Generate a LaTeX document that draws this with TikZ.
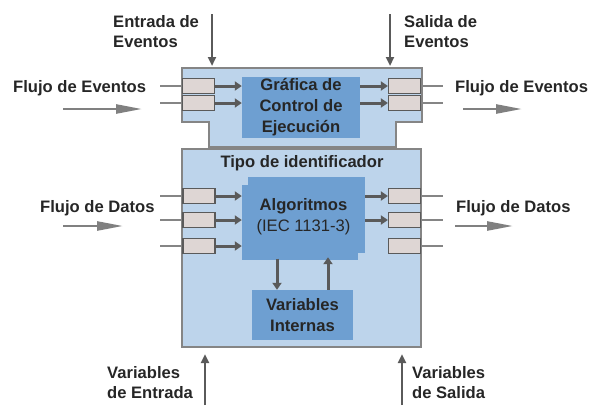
\documentclass[tikz,border=0pt]{standalone}
\usepackage{fontspec}
\setmainfont{Liberation Sans}
\usetikzlibrary{arrows.meta}
\definecolor{boxblue}{HTML}{BDD4EB}
\definecolor{coreblue}{HTML}{6E9FD1}
\definecolor{portfill}{HTML}{DED6D4}
\definecolor{edgegray}{HTML}{858585}
\definecolor{inkgray}{HTML}{5A5A5A}
\tikzset{
  lbl/.style={font=\fontsize{16.6}{20.5}\selectfont\bfseries, text=black!85,
    inner sep=0pt, align=left},
  outerbox/.style={draw=edgegray, fill=boxblue, line width=2.5pt},
  corebox/.style={fill=coreblue, inner sep=0pt, align=center,
    font=\fontsize{16.6}{21}\selectfont\bfseries, text=black!85},
  port/.style={draw=inkgray, fill=portfill, line width=1.2pt,
    minimum width=32pt, minimum height=15pt, inner sep=0pt},
  wire/.style={draw=edgegray, line width=2pt},
  flow/.style={draw=inkgray, line width=3pt, -{Triangle[length=7pt,width=9pt]}},
  iface/.style={draw=inkgray, line width=2.5pt, -{Triangle[length=9pt,width=8pt]}},
  bigflow/.style={draw=gray, line width=2.5pt, -{Triangle[length=26pt,width=9pt]}},
}
\begin{document}
\begin{tikzpicture}[x=1pt,y=-1pt]
  \useasboundingbox (0,0) rectangle (590,405);
  % event part of the block
  \draw[outerbox] (182,68) -- (422,68) -- (422,122) -- (396,122) -- (396,147)
    -- (209,147) -- (209,122) -- (182,122) -- cycle;
  % data part of the block
  \draw[outerbox] (182,149) rectangle (421,347);
  \node[lbl] (tipo) at (302,163) {Tipo de identificador};

  \node[corebox, minimum width=118pt, minimum height=61pt] (ctrl) at (301,107.5)
    {Gráfica de\\Control de\\Ejecución};
  \fill[coreblue] (248,177) rectangle (365,253);
  \fill[coreblue] (242,185) rectangle (358,260);
  \node[corebox, fill=none, minimum width=123pt, minimum height=83pt] (algo) at (303.5,217)
    {Algoritmos\\{\mdseries (IEC 1131-3)}};
  \node[corebox, minimum width=101pt, minimum height=50pt] (vint) at (302.5,315)
    {Variables\\Internas};

  % event ports
  \foreach \i/\y in {1/86, 2/103} {
    \node[port] (evin\i) at (198.5,\y) {};
    \node[port] (evout\i) at (404.5,\y) {};
    \draw[wire] (evin\i.west) -- ++(-22,0);
    \draw[wire] (evout\i.east) -- ++(22,0);
    \draw[flow] (evin\i.east) -- (evin\i.east -| ctrl.west);
    \draw[flow] (ctrl.east |- evout\i.west) -- (evout\i.west);
  }
  % data ports
  \foreach \i/\y in {1/196, 2/220, 3/246} {
    \node[port] (din\i) at (199,\y) {};
    \node[port] (dout\i) at (404.5,\y) {};
    \draw[wire] (din\i.west) -- ++(-22,0);
    \draw[wire] (dout\i.east) -- ++(22,0);
    \draw[flow] (din\i.east) -- (din\i.east -| algo.west);
  }
  \foreach \i in {1,2}
    \draw[flow] (algo.east |- dout\i.west) -- (dout\i.west);

  \draw[flow] ([xshift=-26.5pt]algo.south) -- ([xshift=-26.5pt]algo.south |- vint.north);
  \draw[flow] ([xshift=24.5pt]algo.south |- vint.north) -- ([xshift=24.5pt,yshift=1.5pt]algo.south);

  % labels
  \node[lbl, anchor=north west] (entev) at (113,15) {Entrada de\\Eventos};
  \node[lbl, anchor=north west] (salev) at (404,15) {Salida de\\Eventos};
  \node[lbl, anchor=north west] (flevin) at (13,80) {Flujo de Eventos};
  \node[lbl, anchor=north west] (flevout) at (455,80) {Flujo de Eventos};
  \node[lbl, anchor=north west] (fldin) at (40,200) {Flujo de Datos};
  \node[lbl, anchor=north west] (fldout) at (456,200) {Flujo de Datos};
  \node[lbl, anchor=north west] (varent) at (107,366) {Variables\\de Entrada};
  \node[lbl, anchor=north west] (varsal) at (412,366) {Variables\\de Salida};

  \coordinate (entevtop) at (212,14);
  \coordinate (entevtip) at (212,66);
  \coordinate (salevtop) at (390,14);
  \coordinate (salevtip) at (390,66);
  \coordinate (varentbot) at (205,405);
  \coordinate (varenttip) at (205,354);
  \coordinate (varsalbot) at (402,405);
  \coordinate (varsaltip) at (402,354);
  \draw[iface] (entevtop) -- (entevtip);
  \draw[iface] (salevtop) -- (salevtip);
  \draw[iface] (varentbot) -- (varenttip);
  \draw[iface] (varsalbot) -- (varsaltip);

  \coordinate (evinA) at (63,109);
  \coordinate (evinB) at (142,109);
  \coordinate (evoutA) at (463,109);
  \coordinate (evoutB) at (522,109);
  \coordinate (dinA) at (63,226);
  \coordinate (dinB) at (123,226);
  \coordinate (doutA) at (455,226);
  \coordinate (doutB) at (513,226);
  \draw[bigflow] (evinA) -- (evinB);
  \draw[bigflow] (evoutA) -- (evoutB);
  \draw[bigflow] (dinA) -- (dinB);
  \draw[bigflow] (doutA) -- (doutB);
\end{tikzpicture}
\end{document}
